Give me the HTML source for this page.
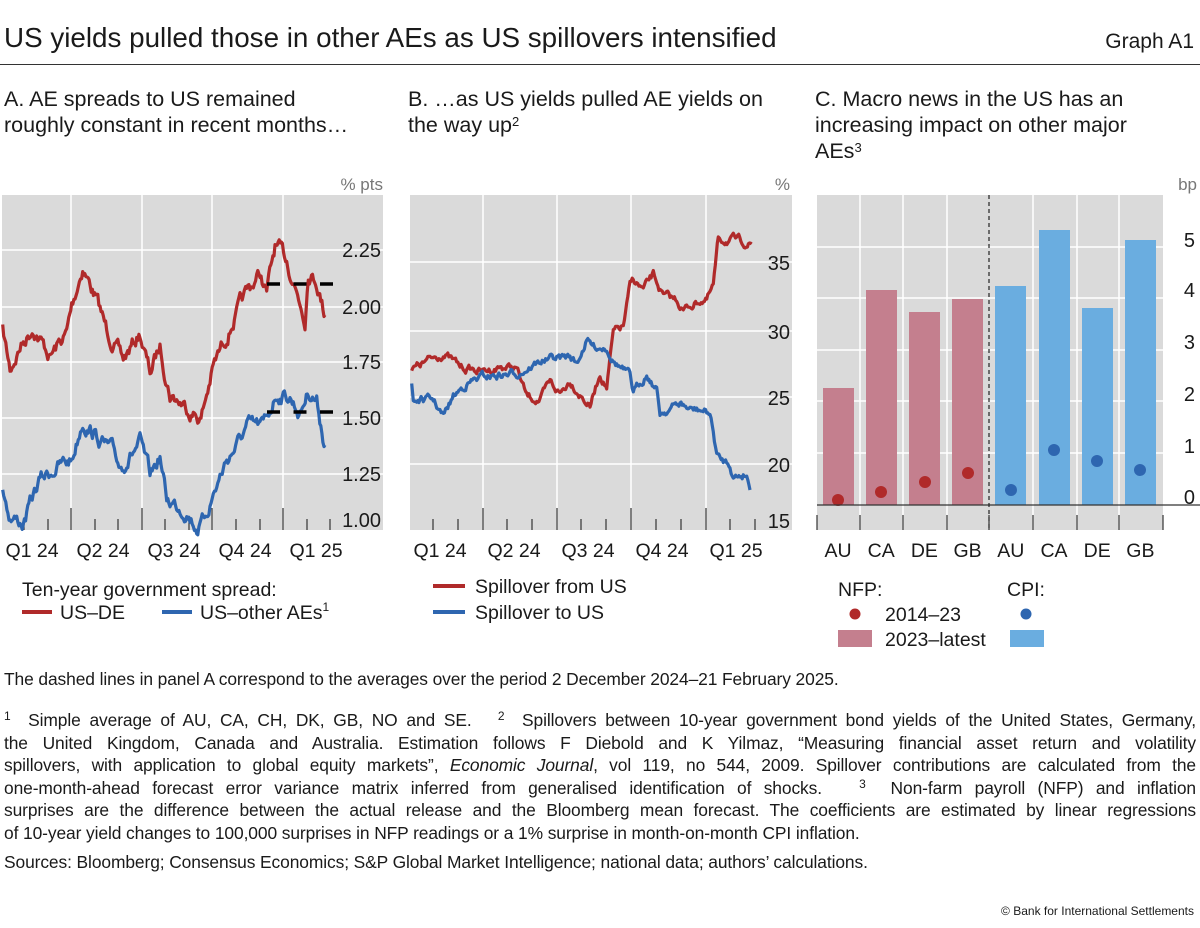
<!DOCTYPE html>
<html><head><meta charset="utf-8"><style>
body{margin:0;background:#fff;font-family:"Liberation Sans","DejaVu Sans",sans-serif;color:#1a1a1a}
#w{position:relative;width:1200px;height:928px;overflow:hidden}
.t{position:absolute;white-space:nowrap}
svg{position:absolute;left:0;top:0}
sup{position:relative;top:-0.5em;vertical-align:baseline;line-height:0}
.fn{position:absolute;left:4px;width:1192px;font-size:17.4px;line-height:22.5px;letter-spacing:-0.1px}
.fn div{text-align:justify;text-align-last:justify;white-space:nowrap}
.fn div.l{text-align-last:left}
</style></head><body><div id="w">
<div class="t" style="left:4px;top:22px;font-size:27.8px">US yields pulled those in other AEs as US spillovers intensified</div>
<div class="t" style="right:6px;top:30px;font-size:21px">Graph A1</div>
<div style="position:absolute;left:0;top:64px;width:1200px;height:1px;background:#333"></div>
<div class="t" style="left:4px;top:86px;font-size:21.5px;line-height:26px">A. AE spreads to US remained<br>roughly constant in recent months…</div>
<div class="t" style="left:408px;top:86px;font-size:21.5px;line-height:26px">B. …as US yields pulled AE yields on<br>the way up<sup style="font-size:13px">2</sup></div>
<div class="t" style="left:815px;top:86px;font-size:21.5px;line-height:26px">C. Macro news in the US has an<br>increasing impact on other major<br>AEs<sup style="font-size:13px">3</sup></div>
<svg id="s" width="1200" height="928"></svg>
<div class="fn" style="top:668px">The dashed lines in panel A correspond to the averages over the period 2 December 2024–21 February 2025.</div>
<div class="fn" style="top:709px">
<div><sup style="font-size:12px">1</sup>&nbsp; Simple average of AU, CA, CH, DK, GB, NO and SE.&nbsp;&nbsp; <sup style="font-size:12px">2</sup>&nbsp; Spillovers between 10-year government bond yields of the United States, Germany,</div>
<div>the United Kingdom, Canada and Australia. Estimation follows F Diebold and K Yilmaz, “Measuring financial asset return and volatility</div>
<div>spillovers, with application to global equity markets”, <i>Economic Journal</i>, vol 119, no 544, 2009. Spillover contributions are calculated from the</div>
<div>one-month-ahead forecast error variance matrix inferred from generalised identification of shocks.&nbsp;&nbsp; <sup style="font-size:12px">3</sup>&nbsp; Non-farm payroll (NFP) and inflation</div>
<div>surprises are the difference between the actual release and the Bloomberg mean forecast. The coefficients are estimated by linear regressions</div>
<div class="l">of 10-year yield changes to 100,000 surprises in NFP readings or a 1% surprise in month-on-month CPI inflation.</div>
</div>
<div class="fn" style="top:851px">Sources: Bloomberg; Consensus Economics; S&amp;P Global Market Intelligence; national data; authors’ calculations.</div>
<div class="t" style="right:6px;top:904px;font-size:12px">© Bank for International Settlements</div>
</div>
<script>
var s=document.getElementById('s'),h='';
function R(x,y,w,hh,c){h+='<rect x="'+x+'" y="'+y+'" width="'+w+'" height="'+hh+'" fill="'+c+'"/>';}
function L(x1,y1,x2,y2,c,w,d){h+='<line x1="'+x1+'" y1="'+y1+'" x2="'+x2+'" y2="'+y2+'" stroke="'+c+'" stroke-width="'+w+'"'+(d?' stroke-dasharray="'+d+'"':'')+'/>';}
function T(x,y,t,sz,c,a){h+='<text x="'+x+'" y="'+y+'" font-size="'+sz+'" fill="'+(c||'#1a1a1a')+'" text-anchor="'+(a||'start')+'" font-family="Liberation Sans, sans-serif">'+t+'</text>';}
var seed=7;function rnd(){seed=(seed*16807)%2147483647;return seed/2147483647;}
function walk(pts,ox,amp,col){var p=[],dev=0;for(var i=0;i<pts.length-1;i++){var a=pts[i],b=pts[i+1];var x0=a[0]/3+ox,y0=a[1]/3+160,x1=b[0]/3+ox,y1=b[1]/3+160;var n=Math.max(1,Math.round((x1-x0)/1.1));for(var k=0;k<n;k++){var t=k/n;dev=dev*0.75+(rnd()-0.5)*amp;p.push((x0+(x1-x0)*t).toFixed(1)+','+(y0+(y1-y0)*t+dev).toFixed(1));}}var e=pts[pts.length-1];p.push((e[0]/3+ox)+','+(e[1]/3+160));h+='<polyline points="'+p.join(' ')+'" fill="none" stroke="'+col+'" stroke-width="3.2" stroke-linejoin="round"/>';}
var GB='#dadada';
// Panel A
R(2,195,381,335,GB);
[250,307,362,418,474].forEach(function(y){L(2,y,383,y,'#fff',1.5)});
[71,142,212,283].forEach(function(x){L(x,195,x,530,'#fff',1.5)});
[['2.25',250],['2.00',307],['1.75',362],['1.50',418],['1.25',474],['1.00',520]].forEach(function(a){T(381,a[1]+7,a[0],20,'#1a1a1a','end')});
T(383,190,'% pts',17,'#777','end');
[24,48,95,118,165,189,236,260,307,330].forEach(function(x){L(x,519,x,530,'#333',1.2)});
[71,142,212,283].forEach(function(x){L(x,508,x,530,'#333',1.2)});
walk([[8,510],[30,630],[60,560],[100,500],[150,590],[200,520],[215,440],[248,320],[290,420],[320,510],[370,600],[420,520],[450,640],[480,560],[510,700],[560,740],[603,775],[640,620],[700,480],[740,400],[780,340],[800,400],[825,260],[860,300],[880,360],[915,470],[925,330],[950,360],[975,465]],0,11,'#b02a2a');
walk([[8,985],[30,1070],[70,1090],[100,1010],[120,960],[170,920],[215,900],[248,780],[290,830],[340,880],[360,920],[420,850],[450,950],[480,890],[500,1020],[560,1050],[590,1100],[610,1085],[640,1000],[680,900],[720,840],[740,800],[790,800],[830,700],[870,710],[900,760],[925,690],[950,720],[975,855]],0,11,'#2e66b0');
L(267,284,333,284,'#000',3.5,'13,13.5');L(267,412,333,412,'#000',3.5,'13,13.5');
['Q1 24','Q2 24','Q3 24','Q4 24','Q1 25'].forEach(function(t,i){T(32+i*71,557,t,19.5,'#1a1a1a','middle')});
T(22,596,'Ten-year government spread:',19.5);
L(22,612,52,612,'#b02a2a',4);T(60,619,'US–DE',19.5);
L(162,612,192,612,'#2e66b0',4);T(200,619,'US–other AEs<tspan font-size="12" dy="-8">1</tspan>',19.5);
// Panel B
R(410,195,382,335,GB);
[262,331,397,464].forEach(function(y){L(410,y,792,y,'#fff',1.5)});
[483,557,631,706].forEach(function(x){L(x,195,x,530,'#fff',1.5)});
[['35',262],['30',331],['25',397],['20',464],['15',520]].forEach(function(a){T(790,a[1]+8,a[0],20,'#1a1a1a','end')});
T(790,190,'%',17,'#777','end');
[433,458,507,532,581,606,656,681,730,755].forEach(function(x){L(x,519,x,530,'#333',1.2)});
[483,557,631,706].forEach(function(x){L(x,508,x,530,'#333',1.2)});
walk([[35,630],[70,610],[130,580],[180,620],[250,635],[300,620],[350,625],[380,710],[420,720],[450,670],[480,700],[510,660],[540,700],[570,740],[600,640],[620,680],[640,520],[670,500],[690,380],[700,360],[730,390],[760,345],[790,410],[830,420],[850,450],[900,420],[920,420],[940,380],[955,240],[1000,240],[1055,252]],400,6,'#b02a2a');
walk([[35,670],[40,720],[100,720],[130,770],[160,710],[200,670],[250,650],[350,640],[430,600],[510,590],[530,610],[560,540],[580,560],[620,560],[640,600],[660,620],[690,650],[700,700],[740,640],[770,690],[780,760],[840,730],[870,750],[900,750],[930,760],[950,880],[960,900],[990,910],[1000,950],[1040,940],[1050,990]],400,6,'#2e66b0');
['Q1 24','Q2 24','Q3 24','Q4 24','Q1 25'].forEach(function(t,i){T(440+i*74,557,t,19.5,'#1a1a1a','middle')});
L(433,586,465,586,'#b02a2a',4);T(475,593,'Spillover from US',19.5);
L(433,612,465,612,'#2e66b0',4);T(475,619,'Spillover to US',19.5);
// Panel C
R(817,195,346,335,GB);
[247,298,350,401,453].forEach(function(y){L(817,y,1163,y,'#fff',1.5)});
[860,903,947,1033,1077,1119].forEach(function(x){L(x,195,x,530,'#fff',1.5)});
[['5',240],['4',290],['3',342],['2',394],['1',446],['0',497]].forEach(function(a){T(1195,a[1]+7,a[0],20,'#1a1a1a','end')});
T(1197,190,'bp',17,'#777','end');
[[823,388],[866,290],[909,312],[952,299]].forEach(function(b){R(b[0],b[1],31,505-b[1],'#c47f8e')});
[[995,286],[1039,230],[1082,308],[1125,240]].forEach(function(b){R(b[0],b[1],31,505-b[1],'#6aade0')});
[[838,500],[881,492],[925,482],[968,473]].forEach(function(d){h+='<circle cx="'+d[0]+'" cy="'+d[1]+'" r="6" fill="#b02a2a"/>'});
[[1011,490],[1054,450],[1097,461],[1140,470]].forEach(function(d){h+='<circle cx="'+d[0]+'" cy="'+d[1]+'" r="6" fill="#2e66b0"/>'});
L(817,505,1200,505,'#333',1.3);
L(989,195,989,530,'#222',1.2,'4,3');
[817,860,903,947,989,1033,1077,1119,1163].forEach(function(x){L(x,515,x,530,'#333',1.2)});
['AU','CA','DE','GB','AU','CA','DE','GB'].forEach(function(t,i){T(838+i*43.2,557,t,19.5,'#1a1a1a','middle')});
T(838,596,'NFP:',19.5);T(1007,596,'CPI:',19.5);
h+='<circle cx="855" cy="614" r="5.5" fill="#b02a2a"/><circle cx="1026" cy="614" r="5.5" fill="#2e66b0"/>';
T(885,621,'2014–23',19.5);
R(838,630,34,17,'#c47f8e');R(1010,630,34,17,'#6aade0');
T(885,646,'2023–latest',19.5);
s.innerHTML=h;
</script>
</body></html>
